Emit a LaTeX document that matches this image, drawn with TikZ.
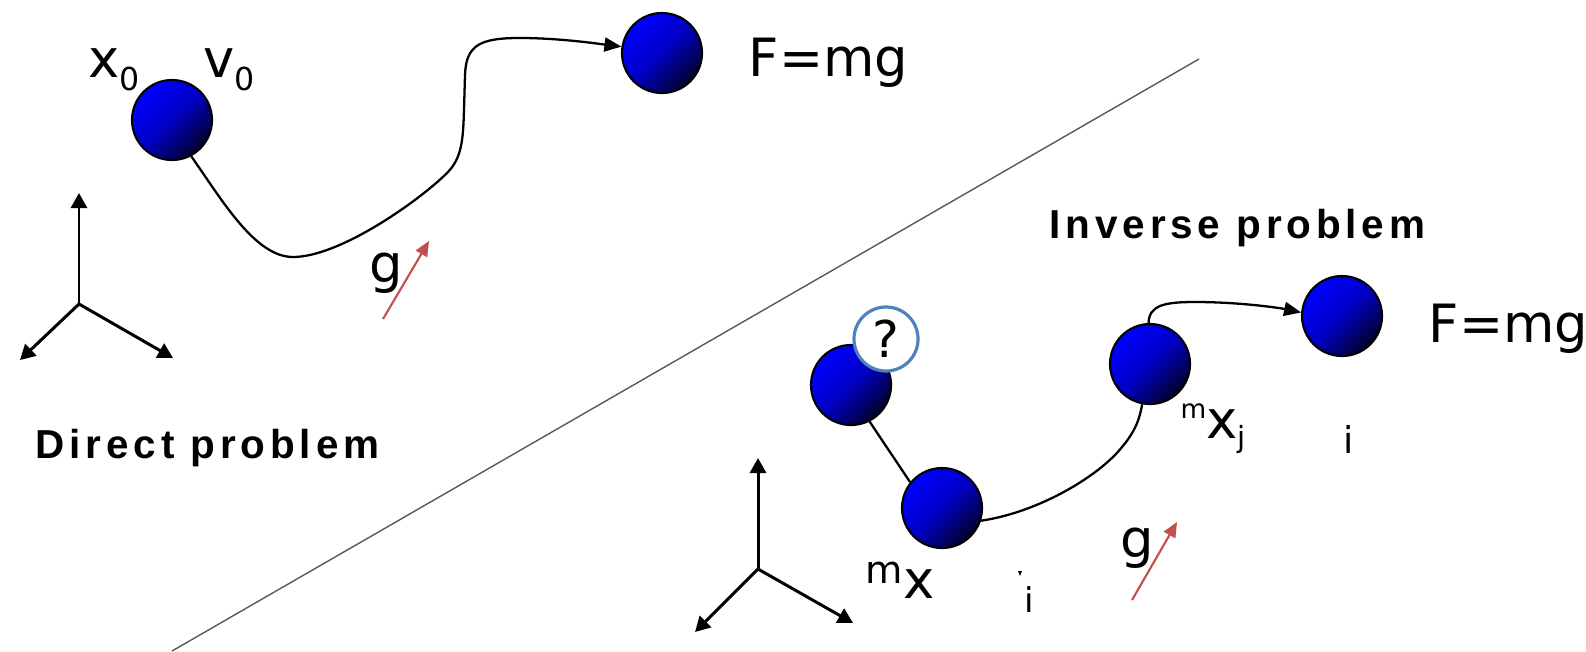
\documentclass[tikz,border=0pt]{standalone}
\usepackage{fontspec}
\setmainfont{DejaVu Sans}
\newfontfamily\headfont[LetterSpace=12]{Liberation Sans}
\usetikzlibrary{arrows.meta,positioning}
\definecolor{ballhi}{RGB}{0,0,255}
\definecolor{ballmid}{RGB}{0,0,195}
\definecolor{balllo}{RGB}{0,0,40}
\definecolor{gred}{RGB}{192,80,77}
\definecolor{qblue}{RGB}{79,129,189}

\begin{document}
\begin{tikzpicture}[
  x=0.01cm, y=-0.01cm,
  font=\fontsize{15}{18}\selectfont,
  ball/.style={circle, draw, line width=0.6pt, minimum size=0.8cm, inner sep=0pt, top color=ballhi, bottom color=balllo, middle color=ballmid, shading angle=45},
  qmark/.style={circle, draw=qblue, line width=0.9pt, fill=white, minimum size=0.64cm, inner sep=0pt, font=\fontsize{14.4}{16}\selectfont},
  lbl/.style={anchor=base west, inner sep=0pt},
  head/.style={anchor=base west, inner sep=0pt, font=\headfont\bfseries\fontsize{11.5}{13}\selectfont},
  traj/.style={line width=0.65pt},
  arr/.style={traj, -{Triangle[length=0.17cm, width=0.14cm]}},
  axis/.style={line width=0.85pt, -{Triangle[length=0.15cm, width=0.16cm]}},
  grav/.style={gred, line width=0.6pt, -{Triangle[length=0.15cm, width=0.13cm]}},
  sep/.style={black!65, line width=0.4pt}
]
\useasboundingbox (0,0) rectangle (1586,651);

\coordinate (d1) at (172,651);
\coordinate (d2) at (1199,59);
\draw[sep] (d1) -- (d2);

\node[ball] (b1) at (172,120) {};
\node[ball] (b2) at (662,53) {};
\node[lbl] (x0) at (88,77) {x\raisebox{-0.13cm}{\fontsize{9}{10}\selectfont 0}};
\node[lbl] (v0) at (203,77) {v\raisebox{-0.13cm}{\fontsize{9}{10}\selectfont 0}};
\node[lbl, right=0.45cm of b2.east, anchor=base west, yshift=-0.23cm] (f1) {F=mg};
\draw[arr] (b1.-62) .. controls (222,200) and (255,257) .. (293,257)
  .. controls (340,257) and (420,200) .. (447,173)
  .. controls (462,158) and (463,140) .. (464,110)
  -- (465,75) .. controls (466,45) and (480,38) .. (520,38)
  .. controls (560,38) and (600,44) .. (b2.171);
\node[lbl] (g1) at (369,282) {g};
\coordinate (g1s) at (383,319);
\coordinate (g1e) at (429,241);
\draw[grav] (g1s) -- (g1e);
\coordinate (o1) at (79,304);
\coordinate (o1z) at (79,193);
\coordinate (o1x) at (20,360);
\coordinate (o1y) at (173,358);
\foreach \t in {o1z,o1x,o1y}
  \draw[axis] (o1) -- (\t);
\node[head] (dp) at (35,458) {Direct problem};

\node[head] (ip) at (1049,238) {Inverse problem};
\node[ball] (bq) at (851,385) {};
\node[qmark] (q) at (886,339) {?};
\node[ball] (bm) at (942,508) {};
\node[ball] (b3) at (1150,364) {};
\node[ball] (b4) at (1342,316) {};
\node[lbl, right=0.45cm of b4.east, anchor=base west, yshift=-0.26cm] (f2) {F=mg};
\draw[traj] (bq.-63) -- (bm.141);
\draw[traj] (bm.-18) .. controls (1040,512) and (1100,475) .. (1122,447)
  .. controls (1138,428) and (1140,415) .. (b3.-101);
\draw[arr] (b3.92) .. controls (1149,305) and (1165,302) .. (1195,302)
  .. controls (1240,302) and (1280,308) .. (b4.175);
\node[lbl] (mx) at (865,598) {\raisebox{0.15cm}{\fontsize{10.9}{12}\selectfont m}x};
\node[lbl] (ib) at (1024,612) {\fontsize{9.7}{11}\selectfont i};
\fill (1018,571) -- (1022,571) -- (1020,576) -- cycle;
\node[lbl] (mxj) at (1180,438) {\raisebox{0.2cm}{\fontsize{7.5}{8}\selectfont m}x\raisebox{-0.09cm}{\fontsize{8.3}{9}\selectfont j}};
\node[lbl] (ij) at (1343,453) {\fontsize{10.5}{12}\selectfont i};
\node[lbl] (g2) at (1120,557) {g};
\coordinate (g2s) at (1132,600);
\coordinate (g2e) at (1177,522);
\draw[grav] (g2s) -- (g2e);
\coordinate (o2) at (758,569);
\coordinate (o2z) at (758,458);
\coordinate (o2x) at (695,632);
\coordinate (o2y) at (853,623);
\foreach \t in {o2z,o2x,o2y}
  \draw[axis] (o2) -- (\t);
\end{tikzpicture}
\end{document}
